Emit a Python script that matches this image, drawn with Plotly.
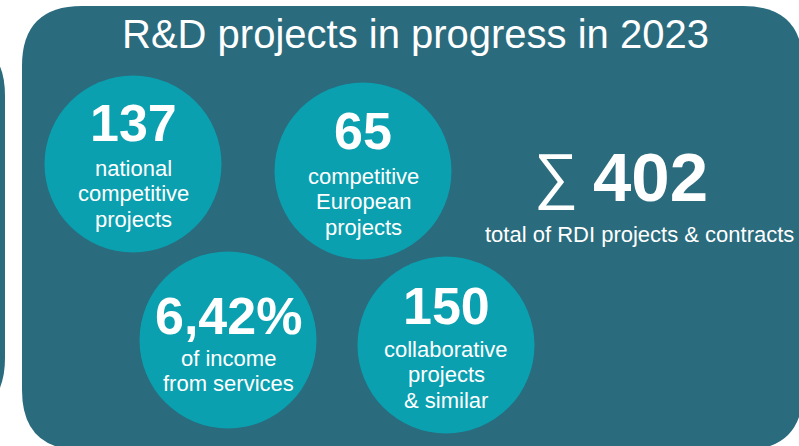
import plotly.graph_objects as go

# ---- data ----
values = ["137", "65", "6,42%", "150"]
labels = [
    "national<br>competitive<br>projects",
    "competitive<br>European<br>projects",
    "of income<br>from services",
    "collaborative<br>projects<br>& similar",
]
total_value = "402"
total_label = "total of RDI projects & contracts"
title_text = "R&D projects in progress in 2023"

# ---- layout (pixel coordinates) ----
W, H = 799, 446
cx = [133, 363, 228, 446]
cy = [164, 171, 340, 345]
radius = 88.5
num_y = [123, 131, 316, 306]
lab_base = [177, 185, 367, 358]
line_gap = 25.5
LAB_FS = 22

BG = "#2A6B7D"
CIRC = "#0AA0AF"
TXT = "#FFFFFF"
FONT = "Liberation Sans, Arial, sans-serif"


def rrect(x0, y0, x1, y1, r):
    return (f"M {x0+r},{y0} L {x1-r},{y0} Q {x1},{y0} {x1},{y0+r} "
            f"L {x1},{y1-r} Q {x1},{y1} {x1-r},{y1} L {x0+r},{y1} "
            f"Q {x0},{y1} {x0},{y1-r} L {x0},{y0+r} Q {x0},{y0} {x0+r},{y0} Z")


fig = go.Figure()
fig.add_trace(go.Scatter(
    x=cx, y=cy, mode="markers",
    marker=dict(size=2 * radius, color=CIRC, line=dict(width=0)),
    hoverinfo="skip", showlegend=False,
))

shapes = [
    dict(type="path", path=rrect(-300, 36, 5, 418, 60), xref="x", yref="y",
         fillcolor=BG, line=dict(width=0), layer="below"),
    dict(type="path", path=rrect(22, 6, 803, 450, 60), xref="x", yref="y",
         fillcolor=BG, line=dict(width=0), layer="below"),
]

ann = []
ann.append(dict(x=415, y=34, text=title_text, showarrow=False, xanchor="center",
                yanchor="middle", font=dict(family=FONT, size=40, color=TXT)))
for i in range(len(values)):
    ann.append(dict(x=cx[i], y=num_y[i], text=f"<b>{values[i]}</b>", showarrow=False,
                    xanchor="center", yanchor="middle",
                    font=dict(family=FONT, size=52, color=TXT)))
    for j, line in enumerate(labels[i].split("<br>")):
        ann.append(dict(x=cx[i], y=lab_base[i] + j * line_gap - 0.4 * LAB_FS,
                        text=line, showarrow=False,
                        xanchor="center", yanchor="middle",
                        font=dict(family=FONT, size=LAB_FS, color=TXT)))
ann.append(dict(x=556, y=176, text="∑", showarrow=False, xanchor="center",
                yanchor="middle", font=dict(family=FONT, size=62, color=TXT)))
ann.append(dict(x=650, y=177, text=f"<b>{total_value}</b>", showarrow=False,
                xanchor="center", yanchor="middle",
                font=dict(family=FONT, size=69, color=TXT)))
ann.append(dict(x=639, y=234, text=total_label, showarrow=False, xanchor="center",
                yanchor="middle", font=dict(family=FONT, size=22, color=TXT)))

fig.update_layout(
    width=W, height=H, margin=dict(l=0, r=0, t=0, b=0),
    paper_bgcolor="white", plot_bgcolor="white",
    xaxis=dict(range=[0, W], visible=False, fixedrange=True),
    yaxis=dict(range=[H, 0], visible=False, fixedrange=True),
    shapes=shapes, annotations=ann,
)
fig.write_html("out.html", config={"displayModeBar": False},
               post_script="document.body.style.margin='0';document.body.style.overflow='hidden';")
